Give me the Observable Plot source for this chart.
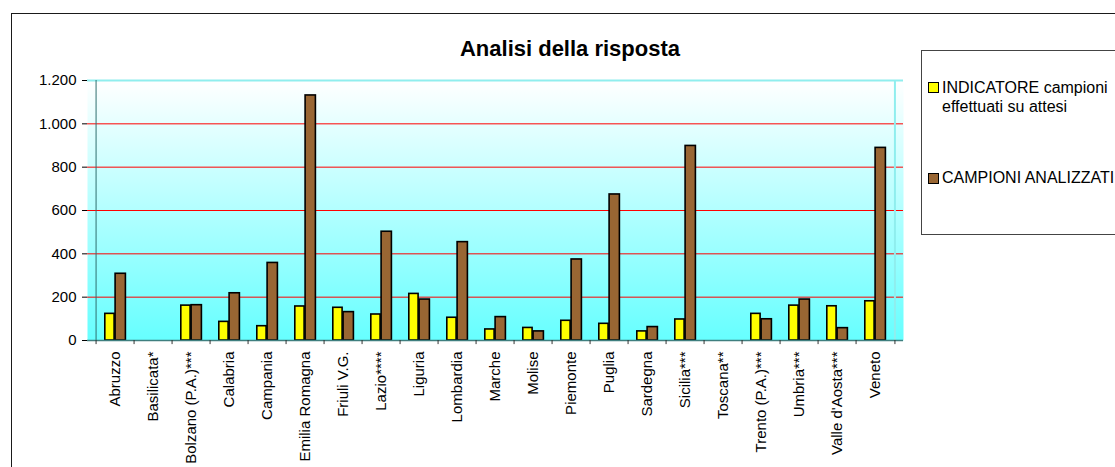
<!DOCTYPE html>
<html>
<head>
<meta charset="utf-8">
<script src="https://cdn.jsdelivr.net/npm/d3@7"></script>
<script src="https://cdn.jsdelivr.net/npm/@observablehq/plot@0.6"></script>
<style>
  html, body { margin: 0; padding: 0; background: #fff; }
  #wrap { position: relative; width: 1115px; height: 467px; overflow: hidden; font-family: Arial, "Liberation Sans", sans-serif; color: #000; }
  #outer { position: absolute; left: 11px; top: 13px; width: 1300px; height: 700px; border: 1px solid #1a1a1a; box-sizing: border-box; }
  #title { position: absolute; left: 370px; width: 400px; top: 38px; text-align: center; font-weight: bold; font-size: 22px; line-height: 22px; white-space: nowrap; }
  #chart { position: absolute; left: 0; top: 0; }
  #legend { position: absolute; left: 921px; top: 50px; width: 400px; height: 185px; border: 1px solid #444; box-sizing: border-box; }
  .sw { position: absolute; width: 11px; height: 11px; border: 1.5px solid #000; box-sizing: border-box; }
  .lt { position: absolute; font-size: 16px; line-height: 19px; white-space: nowrap; }
</style>
</head>
<body>
<div id="wrap">
  <div id="outer"></div>
  <div id="chart"></div>
  <div id="title"></div>
  <div id="legend"></div>
</div>
<script>
// ---- data ----
const title = "Analisi della risposta";
const regions = ["Abruzzo", "Basilicata*", "Bolzano (P.A.)***", "Calabria", "Campania", "Emilia Romagna",
  "Friuli V.G.", "Lazio****", "Liguria", "Lombardia", "Marche", "Molise", "Piemonte", "Puglia",
  "Sardegna", "Sicilia***", "Toscana**", "Trento (P.A.)***", "Umbria***", "Valle d'Aosta***", "Veneto"];
const indicatore = [123, null, 161, 86, 66, 157, 151, 120, 215, 105, 51, 58, 91, 77, 42, 97, null, 123, 161, 158, 181];
const campioni = [308, null, 163, 218, 358, 1131, 131, 502, 189, 454, 108, 42, 374, 674, 62, 898, null, 98, 189, 57, 889];
const seriesNames = ["INDICATORE campioni effettuati su attesi", "CAMPIONI ANALIZZATI"];
const seriesColors = ["#ffff00", "#996633"];
const yTicks = [0, 200, 400, 600, 800, 1000, 1200];
const gridValues = [200, 400, 600, 800, 1000];

// ---- build ----
const indRows = regions.map((r, i) => ({region: r, value: indicatore[i]})).filter(d => d.value != null);
const campRows = regions.map((r, i) => ({region: r, value: campioni[i]})).filter(d => d.value != null);
const fmt = d => d3.format(",")(d).replace(/,/g, ".");
const half = 816 / regions.length / 2;

const plot = Plot.plot({
  width: 915,
  height: 467,
  marginLeft: 87,
  marginRight: 12,
  marginTop: 80,
  marginBottom: 127,
  style: {fontFamily: "Arial, 'Liberation Sans', sans-serif", fontSize: "15px", color: "#000", background: "transparent", overflow: "visible"},
  x: {domain: regions, padding: 0, tickRotate: -90, tickSize: 0, tickPadding: 11, label: null},
  y: {domain: [0, 1200], ticks: yTicks, tickFormat: fmt, tickSize: 5, tickPadding: 6, label: null},
  marks: [
    Plot.frame({fill: "url(#bggrad)", stroke: "none"}),
    Plot.ruleY(gridValues, {stroke: "#ff0000", strokeWidth: 1}),
    Plot.ruleY([1200], {stroke: "#8feeee", strokeWidth: 2}),
    Plot.ruleX([regions[regions.length - 1]], {dx: half, y1: 0, y2: 1200, stroke: "#8feeee", strokeWidth: 2}),
    Plot.barY(indRows, {x: "region", y: "value", fill: seriesColors[0], stroke: "#000", strokeWidth: 1.6, insetLeft: 8.8, insetRight: 19.9}),
    Plot.barY(campRows, {x: "region", y: "value", fill: seriesColors[1], stroke: "#000", strokeWidth: 1.6, insetLeft: 19.1, insetRight: 8.6}),
    Plot.ruleX([regions[0]], {dx: -half, y1: 0, y2: 1200, stroke: "#2f6f6f", strokeWidth: 1}),
    Plot.ruleY([0], {stroke: "#3f7f7f", strokeWidth: 1.5}),
    Plot.ruleX(regions, {dx: -half, y1: 0, y2: -19, stroke: "#333", strokeWidth: 1}),
    Plot.ruleX([regions[regions.length - 1]], {dx: half, y1: 0, y2: -19, stroke: "#333", strokeWidth: 1})
  ]
});

const svg = d3.select(plot);
const defs = svg.insert("defs", ":first-child");
const g = defs.append("linearGradient").attr("id", "bggrad").attr("x1", 0).attr("y1", 0).attr("x2", 0).attr("y2", 1);
g.append("stop").attr("offset", "0%").attr("stop-color", "#ffffff");
g.append("stop").attr("offset", "100%").attr("stop-color", "#66ffff");
document.getElementById("chart").appendChild(plot);

document.getElementById("title").textContent = title;

// legend
const leg = document.getElementById("legend");
function add(cls, styles, text) {
  const el = document.createElement("div");
  el.className = cls;
  Object.assign(el.style, styles);
  if (text != null) el.textContent = text;
  leg.appendChild(el);
  return el;
}
add("sw", {left: "6px", top: "31px", background: seriesColors[0]});
add("lt", {left: "20px", top: "27px"}, "INDICATORE campioni");
add("lt", {left: "20px", top: "46px"}, "effettuati su attesi");
add("sw", {left: "6px", top: "122px", background: seriesColors[1]});
add("lt", {left: "20px", top: "117px"}, seriesNames[1]);
</script>
</body>
</html>
